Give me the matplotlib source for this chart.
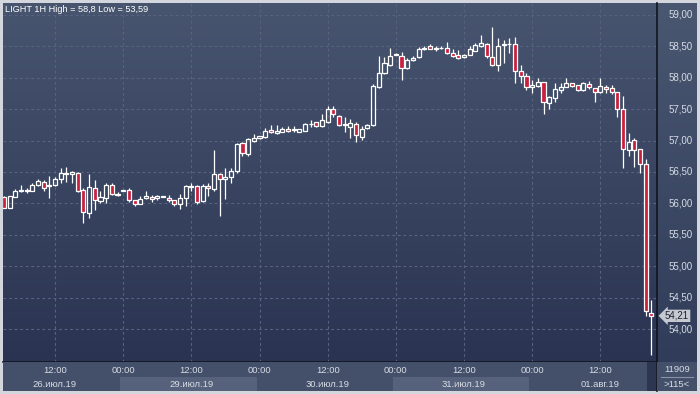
import matplotlib
matplotlib.use("Agg")
import matplotlib.pyplot as plt
import numpy as np
from matplotlib.colors import LinearSegmentedColormap

plt.rcParams["font.family"] = ["Liberation Sans", "DejaVu Sans"]

# hourly OHLC, 26.07.2019 02:00 .. 01.08.2019 20:00 (115 bars)
opens = [56.10, 55.93, 56.10, 56.20, 56.20, 56.20, 56.29, 56.34, 56.27, 56.29,
         56.39, 56.47, 56.46, 56.48, 56.22, 55.85, 56.24, 56.04, 56.08, 56.29,
         56.14, 56.20, 56.22, 56.05, 55.99, 56.08, 56.10, 56.08, 56.10, 56.09,
         56.05, 55.99, 56.08, 56.26, 56.28, 56.04, 56.28, 56.23, 56.46, 56.39,
         56.42, 56.51, 56.96, 56.78, 57.00, 57.04, 57.05, 57.17, 57.12, 57.14,
         57.19, 57.17, 57.14, 57.16, 57.26, 57.29, 57.23, 57.30, 57.51, 57.39,
         57.24, 57.21, 57.26, 57.06, 57.20, 57.24, 57.86, 58.08, 58.21, 58.37,
         58.34, 58.15, 58.28, 58.33, 58.46, 58.51, 58.46, 58.47, 58.48, 58.40,
         58.36, 58.33, 58.37, 58.43, 58.50, 58.53, 58.33, 58.20, 58.52, 58.53,
         58.54, 58.10, 58.02, 57.85, 57.87, 57.93, 57.60, 57.67, 57.80, 57.86,
         57.91, 57.89, 57.80, 57.90, 57.83, 57.77, 57.85, 57.83, 57.77, 57.51,
         56.85, 57.01, 56.87, 56.62, 54.26]
highs = [56.12, 56.12, 56.23, 56.29, 56.24, 56.33, 56.39, 56.37, 56.43, 56.42,
         56.56, 56.58, 56.52, 56.50, 56.24, 56.47, 56.37, 56.19, 56.32, 56.32,
         56.18, 56.21, 56.25, 56.05, 56.12, 56.19, 56.13, 56.13, 56.11, 56.13,
         56.06, 56.15, 56.29, 56.33, 56.30, 56.31, 56.32, 56.85, 56.48, 56.57,
         56.56, 56.96, 56.97, 57.04, 57.10, 57.08, 57.20, 57.25, 57.25, 57.21,
         57.23, 57.23, 57.19, 57.28, 57.32, 57.30, 57.42, 57.55, 57.55, 57.41,
         57.38, 57.35, 57.30, 57.23, 57.26, 57.90, 58.34, 58.33, 58.47, 58.40,
         58.41, 58.31, 58.34, 58.49, 58.51, 58.54, 58.50, 58.50, 58.57, 58.45,
         58.44, 58.38, 58.51, 58.55, 58.68, 58.56, 58.80, 58.63, 58.60, 58.64,
         58.65, 58.20, 58.07, 57.96, 57.99, 57.94, 57.71, 57.91, 57.91, 57.99,
         57.91, 57.89, 57.93, 57.95, 57.84, 57.99, 57.89, 57.89, 57.78, 57.71,
         57.12, 57.04, 56.87, 56.70, 54.46]
lows = [55.92, 55.92, 56.10, 56.18, 56.16, 56.19, 56.28, 56.19, 56.09, 56.28,
        56.33, 56.34, 56.33, 56.18, 55.68, 55.76, 55.89, 56.00, 56.01, 56.13,
        56.12, 56.19, 56.03, 55.96, 55.99, 56.07, 56.03, 56.06, 56.10, 56.02,
        55.96, 55.91, 55.96, 56.20, 55.99, 56.02, 56.12, 56.19, 55.80, 56.07,
        56.33, 56.48, 56.75, 56.76, 56.97, 57.03, 57.04, 57.12, 57.11, 57.13,
        57.14, 57.14, 57.13, 57.16, 57.22, 57.21, 57.22, 57.28, 57.38, 57.23,
        57.14, 57.04, 56.98, 57.01, 57.19, 57.23, 57.83, 58.06, 58.19, 58.36,
        57.96, 58.14, 58.27, 58.32, 58.44, 58.45, 58.42, 58.46, 58.38, 58.33,
        58.30, 58.32, 58.36, 58.42, 58.49, 58.32, 58.18, 58.10, 58.23, 58.40,
        57.91, 57.91, 57.81, 57.76, 57.86, 57.43, 57.51, 57.62, 57.76, 57.85,
        57.85, 57.79, 57.79, 57.82, 57.62, 57.76, 57.75, 57.74, 57.37, 56.56,
        56.75, 56.58, 56.48, 54.20, 53.59]
closes = [55.93, 56.11, 56.20, 56.22, 56.21, 56.29, 56.36, 56.24, 56.29, 56.39,
          56.48, 56.48, 56.50, 56.20, 55.87, 56.26, 56.05, 56.10, 56.29, 56.15,
          56.15, 56.20, 56.05, 55.99, 56.07, 56.12, 56.07, 56.12, 56.11, 56.06,
          55.99, 56.09, 56.28, 56.28, 56.03, 56.28, 56.25, 56.46, 56.39, 56.42,
          56.52, 56.95, 56.80, 57.03, 57.04, 57.07, 57.16, 57.13, 57.15, 57.19,
          57.16, 57.18, 57.18, 57.26, 57.27, 57.23, 57.33, 57.50, 57.42, 57.25,
          57.26, 57.28, 57.09, 57.18, 57.24, 57.87, 58.07, 58.23, 58.35, 58.38,
          58.15, 58.29, 58.32, 58.45, 58.47, 58.46, 58.46, 58.48, 58.39, 58.35,
          58.31, 58.37, 58.45, 58.52, 58.55, 58.34, 58.21, 58.50, 58.53, 58.54,
          58.11, 58.03, 57.86, 57.89, 57.93, 57.62, 57.70, 57.82, 57.85, 57.91,
          57.87, 57.80, 57.92, 57.85, 57.77, 57.87, 57.82, 57.78, 57.50, 56.87,
          56.98, 56.85, 56.62, 54.28, 54.21]

price_ticks = [54.0, 54.5, 55.0, 55.5, 56.0, 56.5, 57.0, 57.5, 58.0, 58.5, 59.0]
time_idx = [9, 21, 33, 45, 57, 69, 81, 93, 105]
time_labels = ["12:00", "00:00", "12:00", "00:00", "12:00",
               "00:00", "12:00", "00:00", "12:00"]
date_idx = [9, 33, 57, 81, 105]
date_labels = ["26.июл.19", "29.июл.19", "30.июл.19", "31.июл.19", "01.авг.19"]
day_bands = [(21, 45), (69, 93)]
last_price = 54.21
bar_count = "11909"
visible_bars = ">115<"
title = "LIGHT 1H High = 58,8 Low = 53,59"

W, H = 700, 394
fig = plt.figure(figsize=(W / 100, H / 100), dpi=100)
fig.patch.set_facecolor("#d3d7dd")


def box(x0, y0, x1, y1):
    # pixel box (top-left origin) -> figure fraction rect
    return [x0 / W, 1 - y1 / H, (x1 - x0) / W, (y1 - y0) / H]


def bare(a):
    a.set_xticks([])
    a.set_yticks([])
    for s in a.spines.values():
        s.set_visible(False)


xlim = (-0.16, 114.98)
ylim = (53.475, 59.19)
grad = np.linspace(0, 1, 256)[:, None]
txt = "#d6dbe4"

# right price panel
rp = fig.add_axes(box(657, 3, 697, 362))
rp.imshow(grad, cmap=LinearSegmentedColormap.from_list("r", ["#303c59", "#4a5771"]),
          extent=[0, 1, 0, 1], transform=rp.transAxes, aspect="auto", origin="lower")
rp.set_xlim(0, 1)
rp.set_ylim(*ylim)
bare(rp)
for p in price_ticks:
    rp.text(0.28, p, f"{p:.2f}".replace(".", ","), color=txt, fontsize=7,
            ha="left", va="center")
rp.text(0.2, last_price, f"{last_price:.2f}".replace(".", ","), color="#1e2230",
        fontsize=7, ha="left", va="center", zorder=5,
        bbox=dict(boxstyle="larrow,pad=0.12", fc="#c5c9d1", ec="none"))

# main chart
ax = fig.add_axes(box(3, 3, 657, 362))
ax.imshow(grad, cmap=LinearSegmentedColormap.from_list("bg", ["#2a3452", "#48556f"]),
          extent=[0, 1, 0, 1], transform=ax.transAxes, aspect="auto", origin="lower",
          zorder=0)
for p in price_ticks:
    ax.axhline(p, color="#58647f", lw=0.8, ls=(0, (2.5, 2.5)), zorder=1)
for i in time_idx:
    ax.axvline(i, color="#58647f", lw=0.8, ls=(0, (2.5, 2.5)), zorder=1)

x = np.arange(len(opens))
o = np.array(opens)
c = np.array(closes)
h = np.array(highs)
l = np.array(lows)
up = c >= o
top = np.maximum(o, c)
bot = np.minimum(o, c)
ax.vlines(x, top, h, color="white", lw=0.9, zorder=3)
ax.vlines(x, l, bot, color="white", lw=0.9, zorder=3)
body = np.maximum(top - bot, 0.008)
ax.bar(x[up], body[up], bottom=bot[up], width=0.72, facecolor="none",
       edgecolor="white", lw=0.9, zorder=4)
ax.bar(x[~up], body[~up], bottom=bot[~up], width=0.72, facecolor="#c9203d",
       edgecolor="white", lw=0.9, zorder=4)

ax.set_xlim(*xlim)
ax.set_ylim(*ylim)
bare(ax)
for s in ("right", "bottom"):
    ax.spines[s].set_visible(True)
    ax.spines[s].set_color("#11151f")
    ax.spines[s].set_linewidth(1.2)

# bottom time panel
bp = fig.add_axes(box(3, 362, 657, 391))
bp.set_facecolor("#44506a")
bp.set_xlim(*xlim)
bp.set_ylim(0, 1)
for a, b in day_bands:
    bp.axvspan(a - 0.5, b - 0.5, 0, 0.47, color="#56627b", lw=0)
bp.axvspan(113.3, 114.75, 0, 1, color="#2c3650", lw=0)
for i, t in zip(time_idx, time_labels):
    bp.text(i, 0.69, t, color=txt, fontsize=6.8, ha="center", va="center")
for i, t in zip(date_idx, date_labels):
    bp.text(i, 0.24, t, color=txt, fontsize=6.8, ha="center", va="center")
bare(bp)
bp.spines["right"].set_visible(True)
bp.spines["right"].set_color("#11151f")
bp.spines["right"].set_linewidth(1.2)

# corner box
cp = fig.add_axes(box(657, 362, 697, 391))
cp.set_facecolor("#44506a")
cp.set_xlim(0, 1)
cp.set_ylim(0, 1)
bare(cp)
cp.axhline(0.5, 0.1, 0.9, color="#8a93a6", lw=0.8)
cp.text(0.5, 0.74, bar_count, color=txt, fontsize=6.8, ha="center", va="center")
cp.text(0.5, 0.24, visible_bars, color=txt, fontsize=6.8, ha="center", va="center")

fig.text(5 / W, 1 - 9 / H, title, color="white", fontsize=6.6, ha="left", va="center")

fig.savefig("out.png", dpi=100)
